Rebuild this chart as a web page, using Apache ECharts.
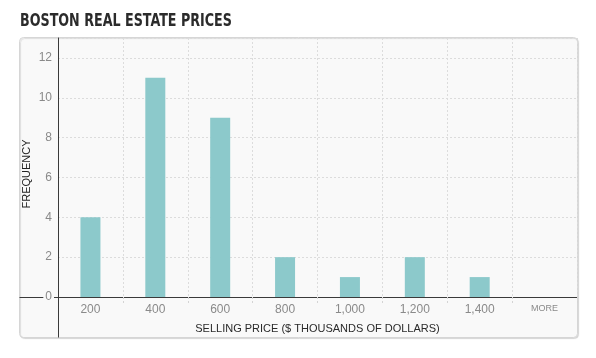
<!DOCTYPE html>
<html>
<head>
<meta charset="utf-8">
<script src="https://cdn.jsdelivr.net/npm/echarts@6/dist/echarts.min.js"></script>
<style>
html,body{margin:0;padding:0;background:#fff;}
#title{position:absolute;left:20px;top:9px;font-family:"DejaVu Sans Condensed","Liberation Sans",sans-serif;font-weight:bold;font-size:18px;color:#2b2b2b;margin:0;line-height:22px;transform:scaleX(0.785);transform-origin:0 0;white-space:nowrap;}
#chart{position:absolute;left:0;top:0;width:596px;height:358px;}
</style>
</head>
<body>
<div id="chart"></div>
<div id="title">BOSTON REAL ESTATE PRICES</div>
<script>
var categories = ['200', '400', '600', '800', '1,000', '1,200', '1,400', 'MORE'];
var frequency = [4, 11, 9, 2, 1, 2, 1, 0];
var yTicks = [0, 2, 4, 6, 8, 10, 12];

var chart = echarts.init(document.getElementById('chart'), null, {renderer: 'canvas'});
var font = '"Liberation Sans", Arial, sans-serif';
var panel = {type: 'rect', z: -10, shape: {x: 19.5, y: 37.5, width: 558, height: 300, r: 4},
  style: {fill: '#f9f9f9', stroke: '#d6d6d6', lineWidth: 1, shadowColor: 'rgba(0,0,0,0.12)', shadowOffsetX: 1, shadowOffsetY: 1, shadowBlur: 1}};
var skipFirst = function (i) { return i > 0; };

var option = {
  animation: false,
  backgroundColor: '#ffffff',
  graphic: [panel],
  grid: {left: 58, right: 19, top: 38, bottom: 61, containLabel: false, outerBoundsMode: 'none'},
  xAxis: {
    type: 'category',
    data: categories,
    z: 1.8,
    boundaryGap: true,
    axisLine: {onZero: false, lineStyle: {color: '#3a3a3a', width: 1}},
    axisTick: {show: true, interval: skipFirst, length: 7, lineStyle: {color: '#d4d4d4', type: [2, 2]}},
    axisLabel: {
      interval: 0, margin: 7, color: '#8a8a8a', fontSize: 12, fontFamily: font,
      formatter: function (v) { return v === 'MORE' ? '{m|' + v + '}' : v; },
      rich: {m: {fontSize: 9, color: '#8a8a8a', fontFamily: font}}
    },
    splitLine: {show: true, interval: skipFirst, lineStyle: {color: '#dcdcdc', type: [2, 2]}},
    name: 'SELLING PRICE ($ THOUSANDS OF DOLLARS)',
    nameLocation: 'middle',
    nameGap: 26,
    nameMoveOverlap: false,
    nameTextStyle: {color: '#2a2a2a', fontSize: 11, fontFamily: font}
  },
  yAxis: {
    type: 'value',
    min: 0, max: 13, interval: 2,
    z: 1.5,
    axisLine: {show: true, onZero: false, lineStyle: {color: '#3a3a3a', width: 1}},
    axisTick: {show: false},
    axisLabel: {
      margin: 4, color: '#8a8a8a', fontSize: 12, fontFamily: font,
      backgroundColor: '#f9f9f9', padding: [0, 2],
      formatter: function (v) { return yTicks.indexOf(v) >= 0 ? String(v) : ''; }
    },
    splitLine: {show: true, lineStyle: {color: '#dcdcdc', type: [2, 2]}},
    name: 'FREQUENCY',
    nameLocation: 'middle',
    nameGap: 26,
    nameMoveOverlap: false,
    nameTextStyle: {color: '#222', fontSize: 11, fontFamily: font, padding: [0, 13, 0, 0]}
  },
  series: [{
    type: 'bar',
    data: frequency,
    barWidth: 20,
    z: 2,
    itemStyle: {color: '#8cc9cb'}
  }]
};
chart.setOption(option);

// extend both axis lines to the edges of the panel
var origin = chart.convertToPixel({gridIndex: 0}, [0, 0]);
var y0 = Math.round(chart.convertToPixel({yAxisIndex: 0}, 0)) + 0.5;
var x0 = 58.5;
chart.setOption({
  graphic: [
    panel,
    {type: 'line', z: -5, shape: {x1: 19.5, y1: y0, x2: x0, y2: y0}, style: {stroke: '#3a3a3a', lineWidth: 1}},
    {type: 'line', z: -5, shape: {x1: x0, y1: y0, x2: x0, y2: 337.5}, style: {stroke: '#3a3a3a', lineWidth: 1}}
  ]
});
</script>
</body>
</html>
